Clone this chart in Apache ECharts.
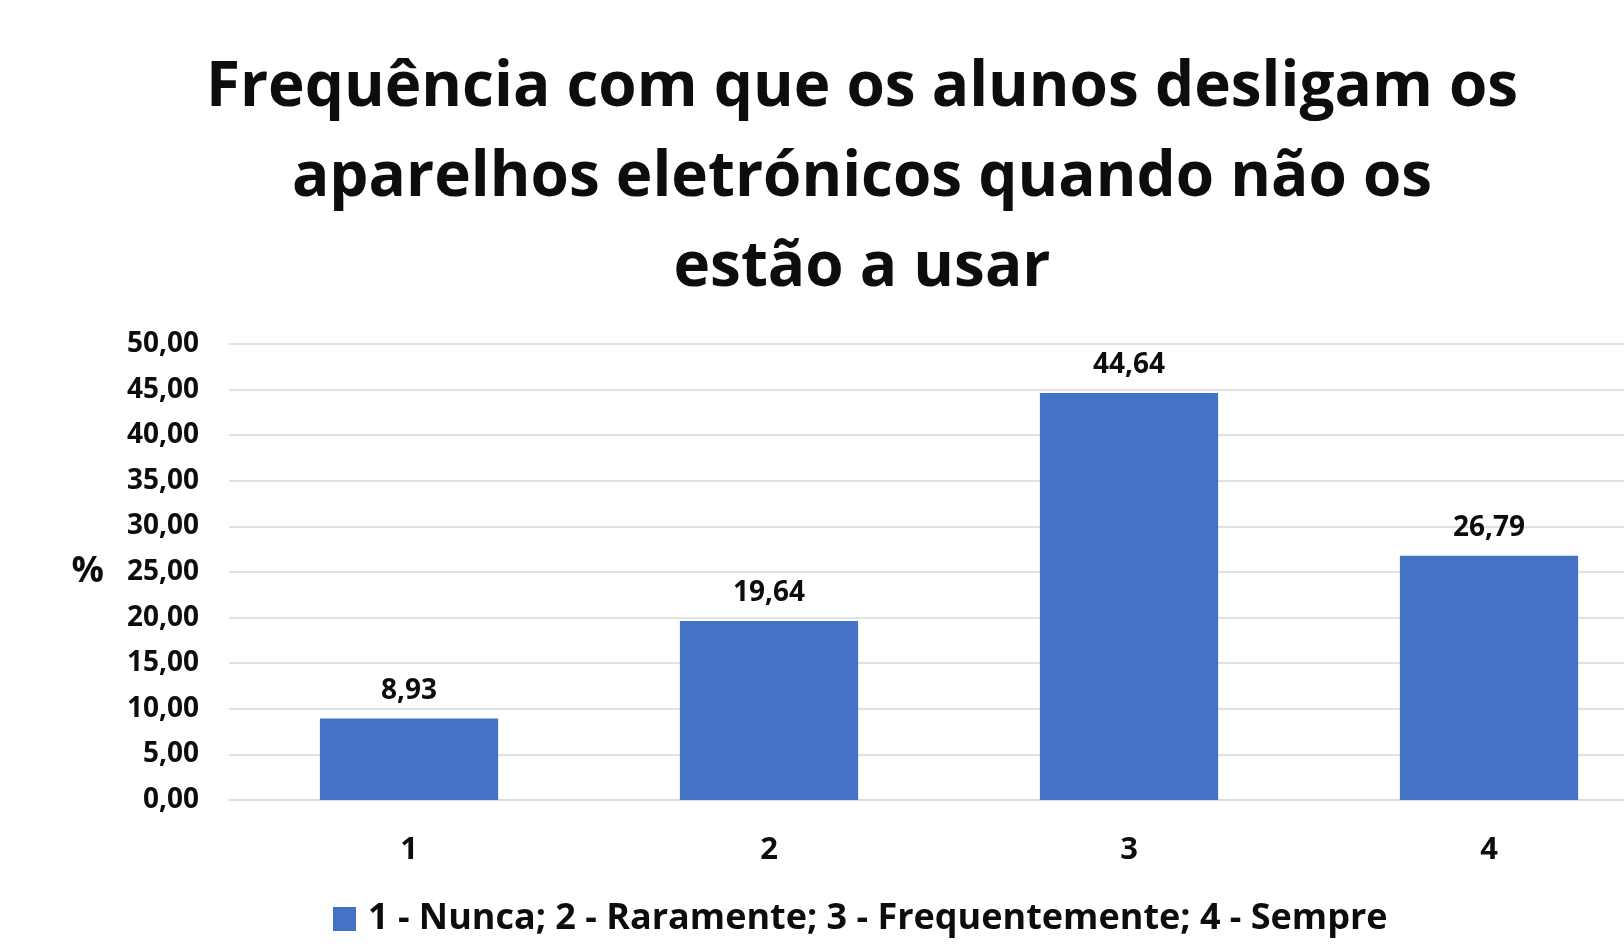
<!DOCTYPE html>
<html>
<head>
<meta charset="utf-8">
<script src="https://cdn.jsdelivr.net/npm/echarts@6/dist/echarts.min.js"></script>
<style>html,body{margin:0;padding:0;background:#fff}#c{width:1624px;height:947px}</style>
</head>
<body>
<div id="c"></div>
<script>
const titleText = 'Frequência com que os alunos desligam os\naparelhos eletrónicos quando não os\nestão a usar';
const categories = ['1', '2', '3', '4'];
const values = [8.93, 19.64, 44.64, 26.79];
const seriesName = '1 - Nunca; 2 - Raramente; 3 - Frequentemente; 4 - Sempre';
const yAxisName = '%';
const yMin = 0, yMax = 50, yStep = 5;

const fmt = v => Number(v).toFixed(2).replace('.', ',');
const FONT = '"Open Sans", "Noto Sans", sans-serif';
const TXT = '#0d0d0d';

const chart = echarts.init(document.getElementById('c'));
chart.setOption({
  backgroundColor: '#ffffff',
  animation: false,
  title: {
    text: titleText,
    left: 862,
    top: 43,
    padding: 0,
    textAlign: 'center',
    textStyle: { fontFamily: FONT, fontWeight: 'bold', fontSize: 62, lineHeight: 90, color: TXT }
  },
  legend: {
    data: [seriesName],
    left: 333,
    top: 901,
    padding: 0,
    itemWidth: 23,
    itemHeight: 24,
    itemGap: 10,
    icon: 'rect',
    textStyle: { fontFamily: FONT, fontWeight: 'bold', fontSize: 36, color: TXT, padding: [0, 0, 0, 7] }
  },
  grid: { left: 229, top: 344, width: 1440, height: 456, outerBoundsMode: 'none', containLabel: false },
  xAxis: {
    type: 'category',
    data: categories,
    axisTick: { show: false },
    axisLine: { show: true, lineStyle: { color: '#d9d9d9', width: 1.5 } },
    axisLabel: { margin: 35, fontFamily: FONT, fontWeight: 'bold', fontSize: 31, color: TXT }
  },
  yAxis: {
    type: 'value',
    min: yMin, max: yMax, interval: yStep,
    name: yAxisName,
    nameLocation: 'middle',
    nameRotate: 0,
    nameGap: 125,
    nameTextStyle: { fontFamily: FONT, fontWeight: 'bold', fontSize: 36, color: TXT, align: 'right' },
    axisLine: { show: false },
    axisTick: { show: false },
    splitLine: { lineStyle: { color: '#d9d9d9', width: 1.5 } },
    axisLabel: { margin: 30, fontFamily: FONT, fontWeight: 'bold', fontSize: 28, color: TXT, formatter: fmt }
  },
  series: [{
    name: seriesName,
    type: 'bar',
    data: values,
    barCategoryGap: '50.5%',
    itemStyle: { color: '#4472C4' },
    label: {
      show: true, position: 'top', distance: 14,
      fontFamily: FONT, fontWeight: 'bold', fontSize: 28, color: TXT,
      formatter: p => fmt(p.value)
    }
  }]
});
</script>
</body>
</html>
